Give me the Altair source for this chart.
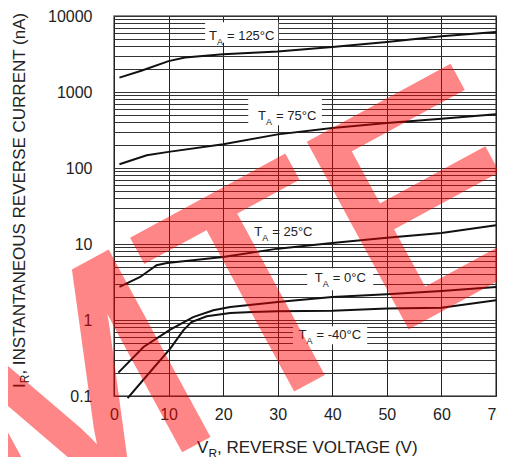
import altair as alt
import pandas as pd

# ---- data ----
v_125 = [1, 5, 10, 13, 20, 30, 40, 50, 60, 70]
i_125 = [1545, 1900, 2550, 2850, 3130, 3400, 3900, 4550, 5400, 6150]

v_75 = [1, 6, 10, 20, 30, 40, 50, 60, 70]
i_75 = [112, 147, 163, 205, 277, 336, 391, 446, 509]

v_25 = [1, 4.8, 7.8, 9.7, 20, 30, 40, 50, 60, 70]
i_25 = [2.72, 3.68, 5.25, 5.62, 6.74, 8.69, 10.3, 12.1, 14.0, 17.6]

v_0 = [0.8, 5.4, 10.3, 14.5, 18.2, 21.3, 30, 40, 50, 60, 70]
i_0 = [0.203, 0.442, 0.748, 1.09, 1.34, 1.48, 1.73, 2.01, 2.18, 2.41, 2.72]

v_m40 = [2.5, 6.6, 10.3, 12.7, 14.2, 17, 21.3, 25.4, 30, 40, 50, 60, 70]
i_m40 = [0.094, 0.207, 0.42, 0.73, 0.94, 1.12, 1.24, 1.27, 1.30, 1.32, 1.42, 1.45, 1.82]

series_names = ["125", "75", "25", "0", "-40"]
series_v = [v_125, v_75, v_25, v_0, v_m40]
series_i = [i_125, i_75, i_25, i_0, i_m40]

# label annotations (left edge of "T", vertical centre)
label_text = ["= 125\u00b0C", "= 75\u00b0C", "= 25\u00b0C", "= 0\u00b0C", "= -40\u00b0C"]
label_v = [17.4, 26.4, 25.7, 36.8, 33.8]
label_i = [5460, 489, 14.4, 3.57, 0.643]

# white boxes behind labels
box_v0 = [16.7, 24.6, 35.4, 32.8]
box_v1 = [30.1, 38.1, 47.5, 46.4]
box_i0 = [8300, 877, 4.79, 0.83]
box_i1 = [4450, 365, 2.46, 0.48]

x_ticks = [0, 10, 20, 30, 40, 50, 60, 70]
y_decades = [0.1, 1, 10, 100, 1000, 10000]
y_grid = sorted(set([round(k * d, 6) for d in y_decades[:-1] for k in range(1, 10)] + [10000]))

x_title = ["V", "R", ", REVERSE VOLTAGE (V)"]
y_title = ["I", "R", ", INSTANTANEOUS REVERSE CURRENT (nA)"]
watermark = ["MTE"]

# ---- tables ----
rows = []
for name, vs, cs in zip(series_names, series_v, series_i):
    for k, (v, c) in enumerate(zip(vs, cs)):
        rows.append({"series": name, "V": v, "I": c, "k": k})
curves = pd.DataFrame(rows)
labels = pd.DataFrame({"V": label_v, "I": label_i, "txt": label_text})
boxes = pd.DataFrame({"v0": box_v0, "v1": box_v1, "i0": box_i0, "i1": box_i1})

FONT = "Liberation Sans"
TXT = "#222222"

xscale = alt.Scale(domain=[0, 70], nice=False, zero=False)
yscale = alt.Scale(type="log", domain=[0.1, 10000], nice=False)

xaxis = alt.Axis(values=x_ticks, grid=True, gridColor="#222222", gridWidth=1, ticks=False,
                 domain=False, labelFontSize=16, labelFont=FONT, labelColor=TXT,
                 labelPadding=10, labelFlush=False, title=None)
yaxis = alt.Axis(values=y_grid, grid=True, gridColor="#333333", gridWidth=1, ticks=False,
                 domain=False, labelFontSize=16, labelFont=FONT, labelColor=TXT,
                 labelPadding=22, labelOverlap=False, labelBound=False, format="~g",
                 labelExpr="indexof([0.1,1,10,100,1000,10000], datum.value) >= 0 ? datum.label : ''",
                 title=None)

box_layer = alt.Chart(boxes).mark_rect(color="white").encode(
    x=alt.X("v0:Q", scale=xscale, axis=xaxis),
    x2="v1:Q",
    y=alt.Y("i0:Q", scale=yscale, axis=yaxis),
    y2="i1:Q",
)

line_layer = alt.Chart(curves).mark_line(color="#111111", strokeWidth=2).encode(
    x=alt.X("V:Q", scale=xscale),
    y=alt.Y("I:Q", scale=yscale),
    detail="series:N",
    order="k:Q",
)

lab_base = alt.Chart(labels).encode(x=alt.X("V:Q", scale=xscale), y=alt.Y("I:Q", scale=yscale))
lab_T = lab_base.mark_text(font=FONT, fontSize=13, color=TXT, align="left", baseline="middle").encode(
    text=alt.value("T"))
lab_A = lab_base.mark_text(font=FONT, fontSize=9, color=TXT, align="left", baseline="middle", dx=8, dy=6).encode(
    text=alt.value("A"))
lab_rest = lab_base.mark_text(font=FONT, fontSize=13, color=TXT, align="left", baseline="middle", dx=18).encode(
    text="txt:N")

one = pd.DataFrame({"a": [0]})

def txt(s, x, y, size, angle=0):
    props = dict(font=FONT, fontSize=size, color=TXT, align="left", baseline="alphabetic")
    if angle:
        props["angle"] = angle
    return alt.Chart(one).mark_text(**props).encode(
        x=alt.value(x), y=alt.value(y), text=alt.value(s))

# x title (plot origin at page 114,16)
xt = [txt(x_title[0], 83, 437, 17), txt(x_title[1], 94.5, 441.5, 12), txt(x_title[2], 103, 437, 17)]
# y title rotated
yt = [txt(y_title[0], -89, 372, 17, 270), txt(y_title[1], -85, 367.3, 12, 270),
      txt(y_title[2], -89, 358.6, 17, 270)]

wm = alt.Chart(pd.DataFrame({"w": watermark})).mark_text(
    font=FONT, fontSize=300, color="#ff0000", opacity=0.47, stroke="#ff0000", strokeWidth=7,
    align="center", baseline="alphabetic", angle=331.5,
).encode(x=alt.value(172), y=alt.value(376), text="w:N")

chart = alt.layer(box_layer, line_layer, lab_T, lab_A, lab_rest, *xt, *yt, wm).properties(
    width=382, height=380,
    autosize=alt.AutoSizeParams(type="none"),
    padding={"left": 106, "top": 8, "right": 1, "bottom": 61},
    background="white",
).configure_view(stroke="#666666", strokeWidth=1.5)

chart.save("out.html", embed_options={"renderer": "svg", "actions": False})
